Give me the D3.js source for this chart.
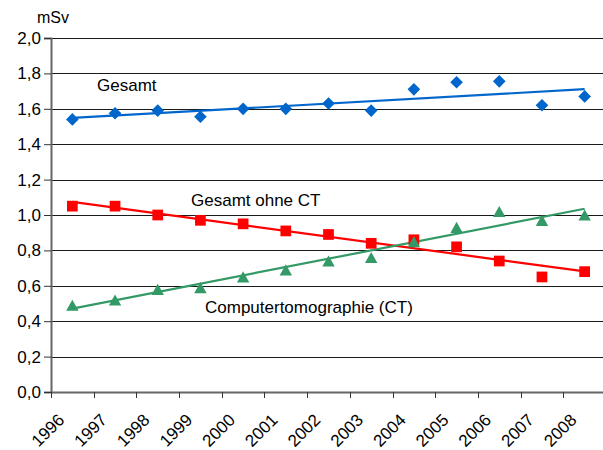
<!DOCTYPE html>
<html>
<head>
<meta charset="utf-8">
<script src="https://cdn.jsdelivr.net/npm/d3@7"></script>
<style>
  html, body { margin: 0; padding: 0; background: #fff; }
  svg { display: block; font-family: "Liberation Sans", Arial, sans-serif; }
</style>
</head>
<body>
<svg id="chart" width="603" height="450"></svg>
<script>
// Effektive Dosis pro Kopf (mSv), 1996–2008
const years = ["1996","1997","1998","1999","2000","2001","2002","2003","2004","2005","2006","2007","2008"];
const gesamt = [1.54, 1.575, 1.59, 1.555, 1.60, 1.60, 1.63, 1.59, 1.71, 1.75, 1.755, 1.62, 1.67];
const gesamtOhneCT = [1.05, 1.05, 1.00, 0.97, 0.95, 0.91, 0.89, 0.84, 0.86, 0.82, 0.74, 0.65, 0.68];
const computertomographie = [0.49, 0.52, 0.58, 0.59, 0.65, 0.69, 0.74, 0.76, 0.85, 0.93, 1.02, 0.97, 1.00];
const yTicks = [0, 0.2, 0.4, 0.6, 0.8, 1.0, 1.2, 1.4, 1.6, 1.8, 2.0];
const unitLabel = "mSv";

// marker shapes, each centred on its bounding box
const diamond = { draw(ctx, size) { const r = Math.sqrt(size / 2); ctx.moveTo(0, -r); ctx.lineTo(r, 0); ctx.lineTo(0, r); ctx.lineTo(-r, 0); ctx.closePath(); } };
const triangle = { draw(ctx, size) { const w = Math.sqrt(size * 2.2), h = w * 0.9; ctx.moveTo(0, -h / 2); ctx.lineTo(w / 2, h / 2); ctx.lineTo(-w / 2, h / 2); ctx.closePath(); } };

const series = [
  { name: "Gesamt", values: gesamt, color: "#0066CC", marker: diamond, size: 80, label: [97, 91] },
  { name: "Gesamt ohne CT", values: gesamtOhneCT, color: "#FF0000", marker: d3.symbolSquare, size: 115, label: [191, 206] },
  { name: "Computertomographie (CT)", values: computertomographie, color: "#339966", marker: triangle, size: 70, label: [205, 313] }
];

const svg = d3.select("#chart");
const plotLeft = 51, plotRight = 606, plotTop = 38, plotBottom = 392, W = 603;

const x = d3.scaleBand().domain(years).range([plotLeft, plotRight]);
const y = d3.scaleLinear().domain([0, 2]).range([plotBottom, plotTop]);
const cx = d => x(d) + x.bandwidth() / 2;
const fmt = v => d3.format(".1f")(v).replace(".", ",");

// horizontal gridlines
svg.append("g").selectAll("line").data(yTicks.filter(t => t > 0)).join("line")
  .attr("x1", plotLeft).attr("x2", W)
  .attr("y1", d => Math.round(y(d)) + 0.5).attr("y2", d => Math.round(y(d)) + 0.5)
  .attr("stroke", "#1a1a1a").attr("stroke-width", 1);

// y axis
const yAxis = svg.append("g").attr("transform", `translate(${plotLeft},0)`)
  .call(d3.axisLeft(y).tickValues(yTicks).tickSize(7).tickPadding(3).tickFormat(fmt));
yAxis.select(".domain").attr("stroke", "#666").attr("stroke-width", 2);
yAxis.selectAll(".tick line").attr("stroke", "#333");
yAxis.selectAll("text").attr("font-size", 17).attr("fill", "#000")
  .attr("font-family", "Liberation Sans, Arial, sans-serif");

// x axis baseline and tick marks at category boundaries
svg.append("line").attr("x1", plotLeft).attr("x2", W).attr("y1", plotBottom + 0.5).attr("y2", plotBottom + 0.5)
  .attr("stroke", "#666").attr("stroke-width", 2);
svg.append("g").selectAll("line").data(years).join("line")
  .attr("x1", d => Math.round(x(d)) + 0.5).attr("x2", d => Math.round(x(d)) + 0.5)
  .attr("y1", plotBottom).attr("y2", plotBottom + 6)
  .attr("stroke", "#333");

// rotated year labels
svg.append("g").selectAll("text").data(years).join("text")
  .attr("transform", d => `translate(${cx(d) - 7},${plotBottom + 29}) rotate(-45)`)
  .attr("text-anchor", "end")
  .attr("font-size", 17)
  .text(d => d);

// unit label
svg.append("text").attr("x", 37).attr("y", 23).attr("font-size", 16).text(unitLabel);

// least-squares trend for each series
function trend(vals) {
  const n = vals.length, xs = d3.range(n);
  const mx = d3.mean(xs), my = d3.mean(vals);
  const b = d3.sum(xs, i => (i - mx) * (vals[i] - my)) / d3.sum(xs, i => (i - mx) ** 2);
  const a = my - b * mx;
  return [[0, a], [n - 1, a + b * (n - 1)]];
}

const line = d3.line().x(p => cx(years[p[0]])).y(p => y(p[1]));

series.forEach(s => {
  svg.append("path").datum(trend(s.values))
    .attr("d", line).attr("fill", "none")
    .attr("stroke", s.color).attr("stroke-width", 2.2);
});

series.forEach(s => {
  svg.append("g").selectAll("path").data(s.values).join("path")
    .attr("transform", (v, i) => `translate(${cx(years[i])},${y(v)})`)
    .attr("d", d3.symbol().type(s.marker).size(s.size))
    .attr("fill", s.color);
  svg.append("text").attr("x", s.label[0]).attr("y", s.label[1])
    .attr("font-size", 17).text(s.name);
});
</script>
</body>
</html>
